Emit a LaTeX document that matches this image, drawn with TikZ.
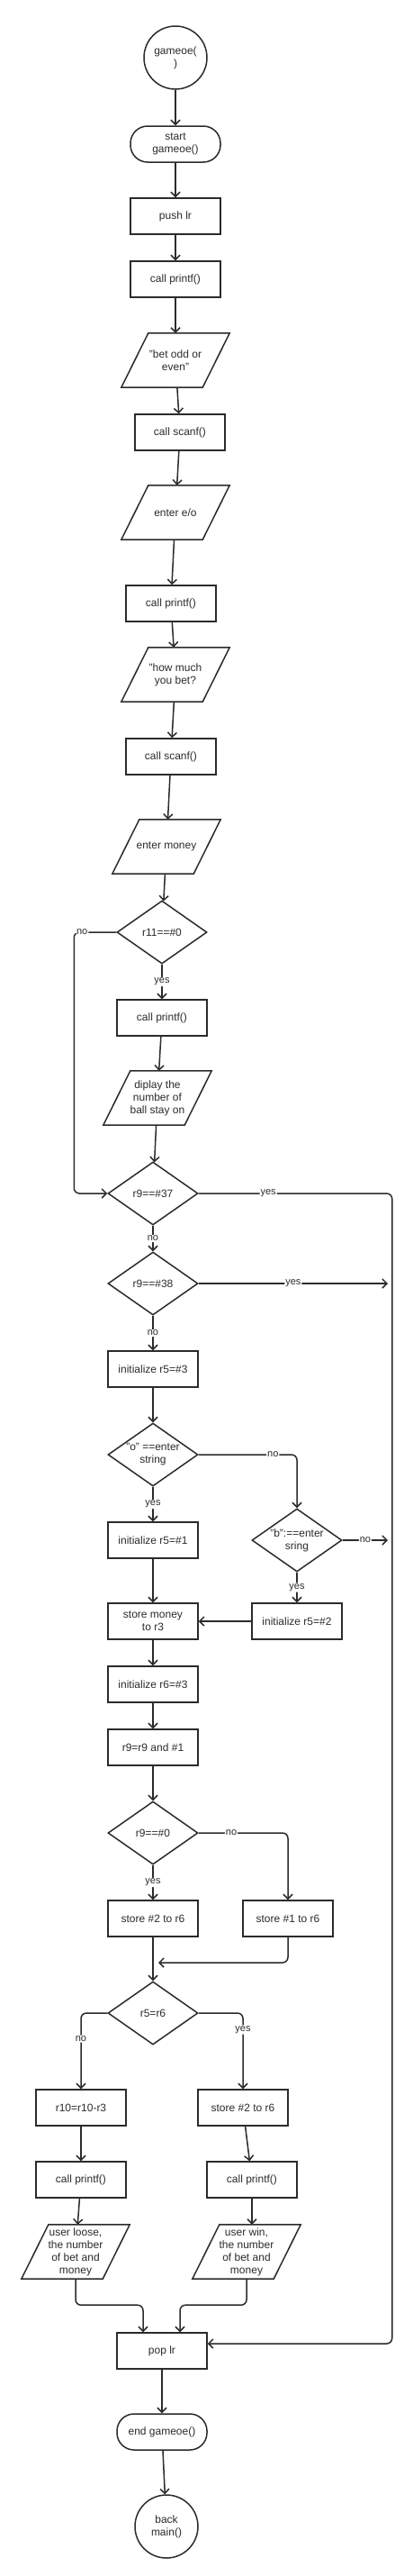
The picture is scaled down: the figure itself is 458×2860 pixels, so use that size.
\documentclass[tikz,border=0pt]{standalone}
\usepackage{fontspec}
\setmainfont{Liberation Sans}
\usetikzlibrary{shapes.geometric,arrows.meta}
\definecolor{ink}{HTML}{2B2B2B}

\tikzset{
  txt/.style={align=center, text=ink, font=\fontsize{12}{14}\selectfont},
  box/.style={txt, draw=ink, line width=1.5pt, minimum width=100pt, minimum height=40pt, inner sep=2pt},
  term/.style={box, rounded corners=19pt},
  % parallelogram: a 90x60 body, the slanted outline drawn round it
  io/.style={txt, minimum width=90pt, minimum height=60pt, inner sep=0pt,
    append after command={\pgfextra{\draw[draw=ink, line width=1.5pt, line join=miter]
      ([xshift=-15pt]\tikzlastnode.south west) -- ([xshift=15pt]\tikzlastnode.north west)
      -- ([xshift=15pt]\tikzlastnode.north east) -- ([xshift=-15pt]\tikzlastnode.south east) -- cycle;}}},
  dec/.style={txt, draw=ink, line width=1.5pt, diamond, aspect=1.43, minimum width=100pt, minimum height=70pt, inner sep=0pt},
  circ/.style={txt, draw=ink, line width=1.5pt, circle, minimum size=70pt, inner sep=0pt},
  flow/.style={draw=ink, line width=1.5pt, rounded corners=6pt, -{Straight Barb[length=5pt,width=10pt]}},
  lbl/.style={fill=white, inner sep=1pt, text=ink, font=\fontsize{11}{13}\selectfont}
}

\begin{document}
\begin{tikzpicture}[x=1pt,y=1pt,yscale=-1]
\useasboundingbox (0,0) rectangle (458,2860);

%Shape: Circle
\node (gameoe) at (195,64) [circ] {gameoe(\\)};
%Shape: Terminal
\node (start) at (195,160) [term] {start\\gameoe()};
%Shape: Rectangle
\node (push) at (195,240) [box] {push lr};
\node (printfA) at (195,310) [box] {call printf()};
%Shape: Parallelogram
\node (betodd) at (195,400) [io] {"bet odd or\\even"};
\node (scanfA) at (200,480) [box] {call scanf()};
\node (entereo) at (195,569) [io] {enter e/o};
\node (printfB) at (190,670) [box] {call printf()};
\node (howmuch) at (195,749) [io] {"how much\\you bet?};
\node (scanfB) at (190,840) [box] {call scanf()};
\node (money) at (185,940) [io] {enter money};
%Shape: Diamond
\node (rEleven) at (180,1035) [dec] {r11==\#0};
\node (printfC) at (180,1130) [box] {call printf()};
\node (diplay) at (175,1219) [io] {diplay the\\number of\\ball stay on};
\node (rNine37) at (170,1325) [dec] {r9==\#37};
\node (rNine38) at (170,1425) [dec] {r9==\#38};
\node (initA) at (170,1520) [box] {initialize r5=\#3};
\node (oStr) at (170,1615) [dec] {"o" ==enter\\string};
\node (bStr) at (330,1710) [dec] {"b":==enter\\sring};
\node (initB) at (170,1710) [box] {initialize r5=\#1};
\node (initC) at (330,1800) [box] {initialize r5=\#2};
\node (storeMoney) at (170,1800) [box] {store money\\to r3};
\node (initR6) at (170,1870) [box] {initialize r6=\#3};
\node (andOne) at (170,1940) [box] {r9=r9 and \#1};
\node (rNineZero) at (170,2035) [dec] {r9==\#0};
\node (storeTwo) at (170,2130) [box] {store \#2 to r6};
\node (storeOne) at (320,2130) [box] {store \#1 to r6};
\node (rFiveSix) at (170,2235) [dec] {r5=r6};
\node (subRTen) at (90,2340) [box] {r10=r10-r3};
\node (storeTwoB) at (270,2340) [box] {store \#2 to r6};
\node (printfL) at (90,2420) [box] {call printf()};
\node (printfR) at (280,2420) [box] {call printf()};
\node (loose) at (84,2500) [io] {user loose,\\the number\\of bet and\\money};
\node (win) at (274,2500) [io] {user win,\\the number\\of bet and\\money};
\node (pop) at (180,2610) [box] {pop lr};
\node (endg) at (180,2700) [term] {end gameoe()};
\node (back) at (185,2805) [circ] {back\\main()};

%free ends on the right rail and the merge point
\coordinate (railA) at (431,1425);
\coordinate (railB) at (431,1710);
\coordinate (merge) at (176,2179);

%Straight Lines
\draw[flow] (gameoe) -- (start);
\draw[flow] (start) -- (push);
\draw[flow] (push) -- (printfA);
\draw[flow] (printfA) -- (betodd);
\draw[flow] (betodd) -- (scanfA);
\draw[flow] (scanfA) -- (entereo);
\draw[flow] (entereo) -- (printfB);
\draw[flow] (printfB) -- (howmuch);
\draw[flow] (howmuch) -- (scanfB);
\draw[flow] (scanfB) -- (money);
\draw[flow] (money) -- (rEleven);
\draw[flow] (rEleven) -- (printfC) node[lbl,pos=.5] (lYesA) {yes};
\draw[flow] (printfC) -- (diplay);
\draw[flow] (diplay) -- (rNine37);
\draw[flow] (rEleven.west) -- ++(-47,0) node[lbl,pos=.81] (lNoA) {no} |- (rNine37.west);
\draw[flow] (rNine37.east) -- ++(215,0) node[lbl,pos=.36] (lYesB) {yes} |- ([yshift=-8pt]pop.east);
\draw[flow] (rNine37) -- (rNine38) node[lbl,pos=.5] (lNoB) {no};
\draw[flow] (rNine38.east) -- (railA) node[lbl,pos=.5] (lYesC) {yes};
\draw[flow] (rNine38) -- (initA) node[lbl,pos=.5] (lNoC) {no};
\draw[flow] (initA) -- (oStr);
\draw[flow] (oStr.east) -| (bStr.north) node[lbl,pos=.378] (lNoD) {no};
\draw[flow] (oStr) -- (initB) node[lbl,pos=.5] (lYesD) {yes};
\draw[flow] (bStr.east) -- (railB) node[lbl,pos=.5] (lNoE) {no};
\draw[flow] (bStr) -- (initC) node[lbl,pos=.5] (lYesE) {yes};
\draw[flow] (initB) -- (storeMoney);
\draw[flow] (initC) -- (storeMoney);
\draw[flow] (storeMoney) -- (initR6);
\draw[flow] (initR6) -- (andOne);
\draw[flow] (andOne) -- (rNineZero);
\draw[flow] (rNineZero.east) -| (storeOne.north) node[lbl,pos=.183] (lNoF) {no};
\draw[flow] (rNineZero) -- (storeTwo) node[lbl,pos=.5] (lYesF) {yes};
\draw[flow] (storeTwo) -- (rFiveSix);
\draw[flow] (storeOne.south) |- (merge);
\draw[flow] (rFiveSix.west) -| (subRTen.north) node[lbl,pos=.67] (lNoG) {no};
\draw[flow] (rFiveSix.east) -| (storeTwoB.north) node[lbl,pos=.61] (lYesG) {yes};
\draw[flow] (subRTen) -- (printfL);
\draw[flow] (storeTwoB) -- (printfR);
\draw[flow] (printfL) -- (loose);
\draw[flow] (printfR.south) -- (printfR.south |- win.north);
\draw[flow] (loose.south) -- ++(0,29) -| ([xshift=-21pt]pop.north);
\draw[flow] (win.south) -- ++(0,29) -| ([xshift=20pt]pop.north);
\draw[flow] (pop) -- (endg);
\draw[flow] (endg) -- (back);

\end{tikzpicture}
\end{document}
